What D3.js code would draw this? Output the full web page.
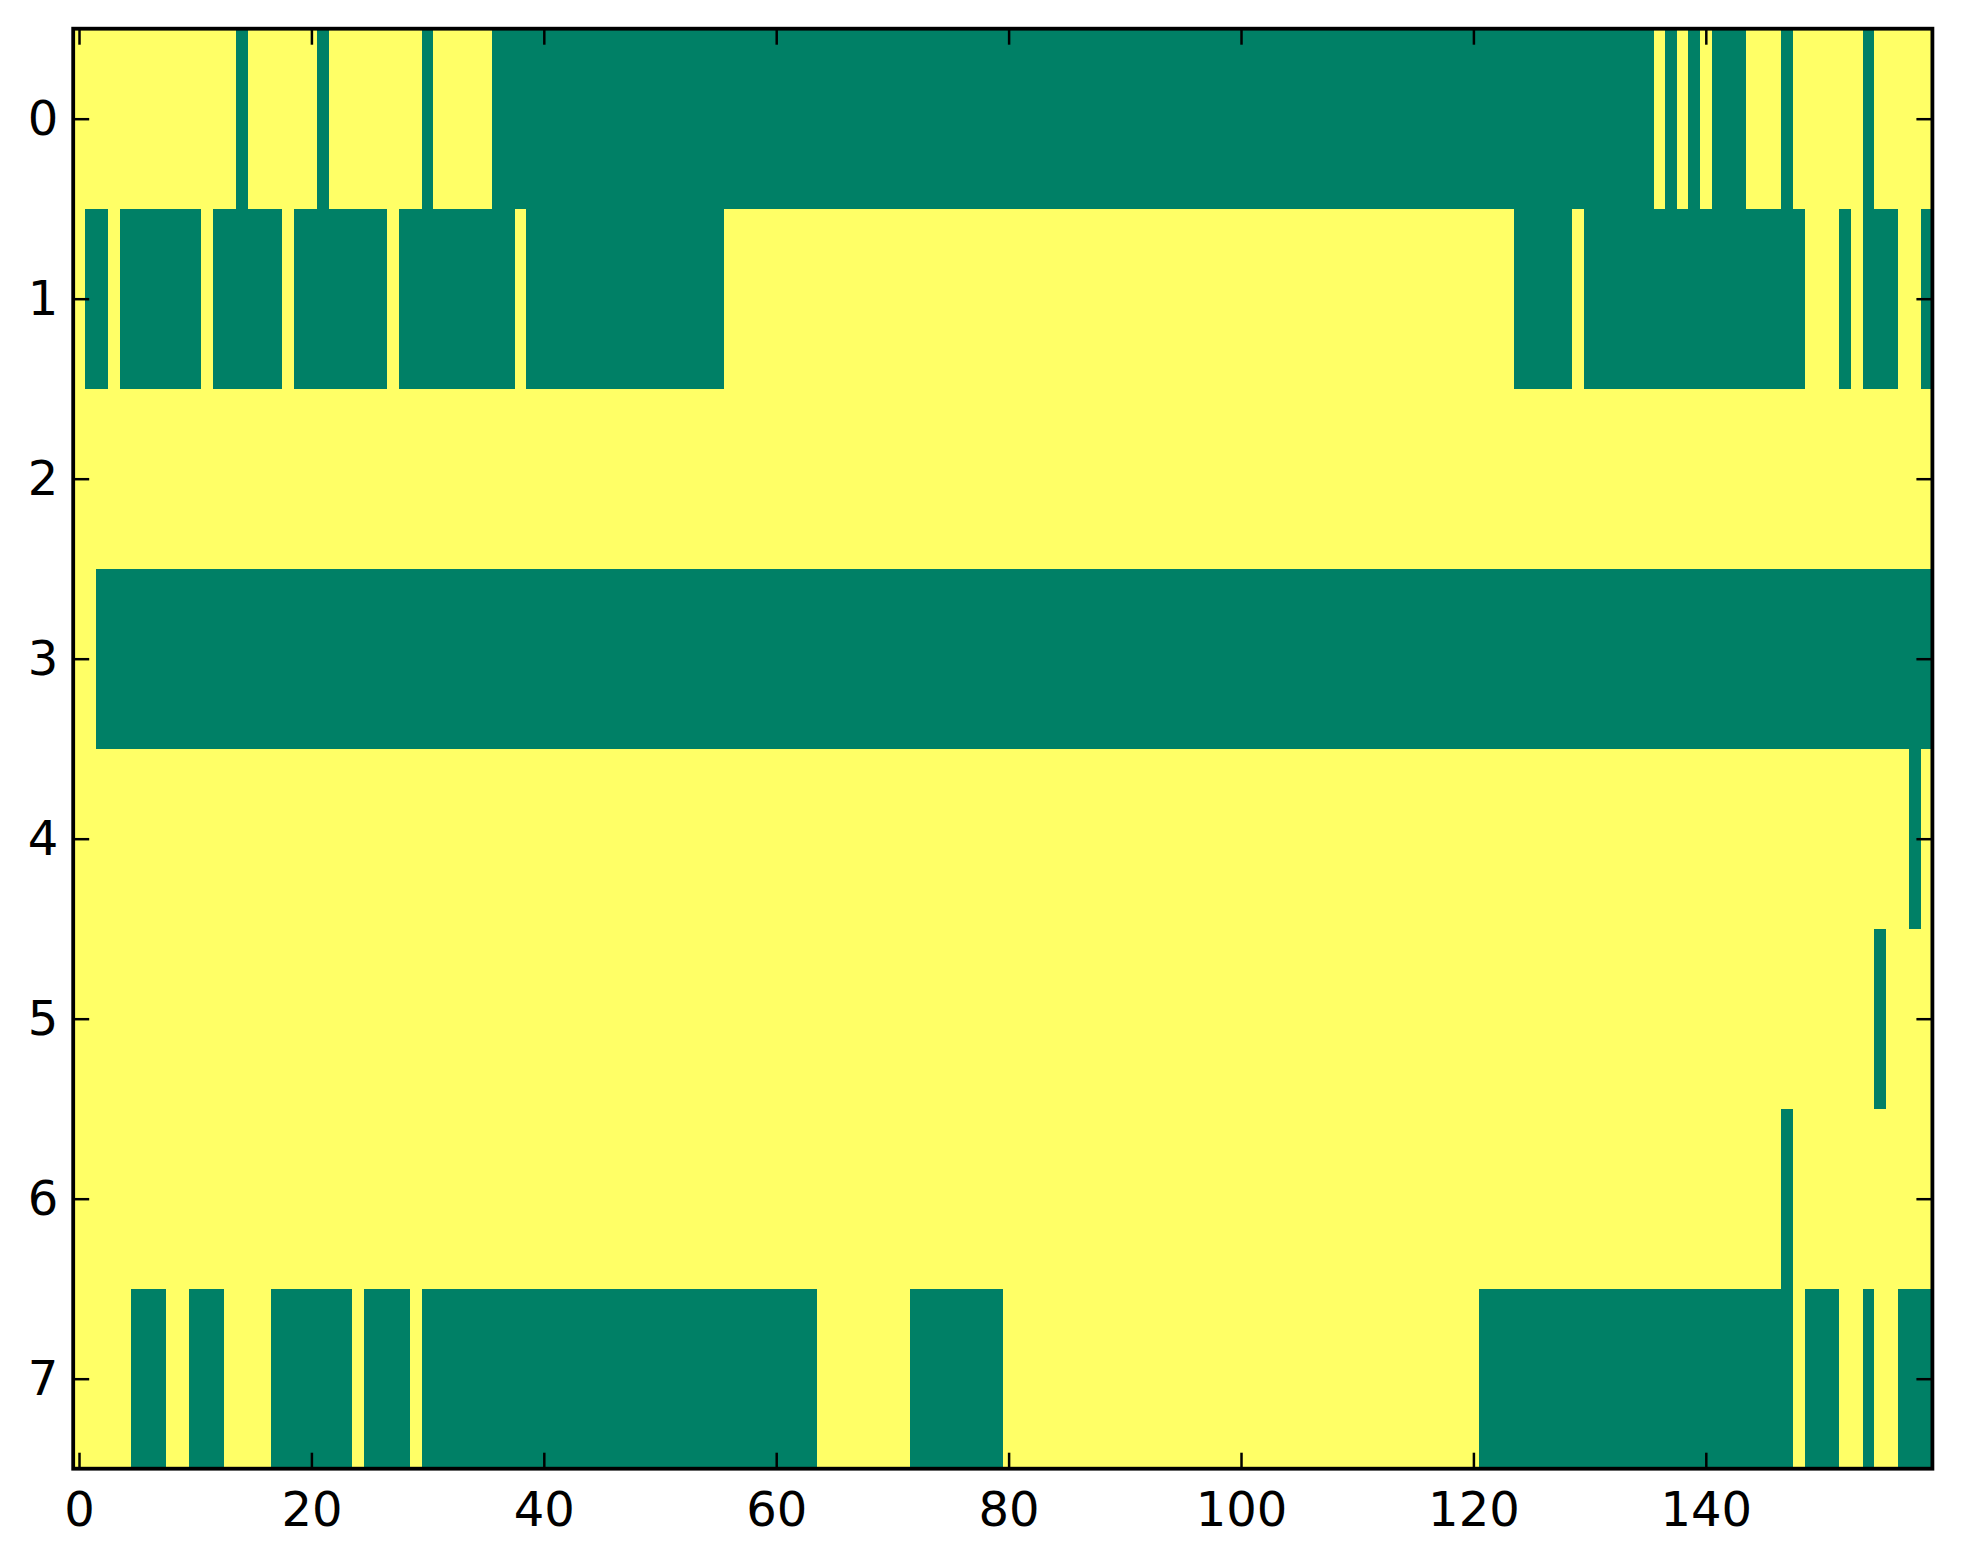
<!DOCTYPE html>
<html>
<head>
<meta charset="utf-8">
<script src="https://d3js.org/d3.v7.min.js"></script>
<style>
  body { margin: 0; background: #fff; }
  svg { display: block; }
  .tick text { font-family: 'DejaVu Sans', sans-serif; font-size: 48px; fill: #000; }
</style>
</head>
<body>
<svg id="chart" width="1963" height="1564"></svg>
<script>
// cell values, 10 columns per chunk: 1 = yellow, 0 = green
const row0 = ['1111111111', '1111011111', '1011111111', '0111110000', '0000000000', '0000000000', '0000000000', '0000000000',
              '0000000000', '0000000000', '0000000000', '0000000000', '0000000000', '0000001010', '1000111011', '1111011111'];
const row1 = ['1001000000', '0100000010', '0000000100', '0000000010', '0000000000', '0000001111', '1111111111', '1111111111',
              '1111111111', '1111111111', '1111111111', '1111111111', '1111000001', '0000000000', '0000000001', '1101000110'];
const row2 = ['1111111111', '1111111111', '1111111111', '1111111111', '1111111111', '1111111111', '1111111111', '1111111111',
              '1111111111', '1111111111', '1111111111', '1111111111', '1111111111', '1111111111', '1111111111', '1111111111'];
const row3 = ['1100000000', '0000000000', '0000000000', '0000000000', '0000000000', '0000000000', '0000000000', '0000000000',
              '0000000000', '0000000000', '0000000000', '0000000000', '0000000000', '0000000000', '0000000000', '0000000000'];
const row4 = ['1111111111', '1111111111', '1111111111', '1111111111', '1111111111', '1111111111', '1111111111', '1111111111',
              '1111111111', '1111111111', '1111111111', '1111111111', '1111111111', '1111111111', '1111111111', '1111111101'];
const row5 = ['1111111111', '1111111111', '1111111111', '1111111111', '1111111111', '1111111111', '1111111111', '1111111111',
              '1111111111', '1111111111', '1111111111', '1111111111', '1111111111', '1111111111', '1111111111', '1111101111'];
const row6 = ['1111111111', '1111111111', '1111111111', '1111111111', '1111111111', '1111111111', '1111111111', '1111111111',
              '1111111111', '1111111111', '1111111111', '1111111111', '1111111111', '1111111111', '1111111011', '1111111111'];
const row7 = ['1111100011', '0001111000', '0000100001', '0000000000', '0000000000', '0000000000', '0000111111', '1100000000',
              '1111111111', '1111111111', '1111111111', '1111111111', '1000000000', '0000000000', '0000000010', '0011011000'];

const rows = [row0, row1, row2, row3, row4, row5, row6, row7];
const xTicks = [0, 20, 40, 60, 80, 100, 120, 140];
const yTicks = [0, 1, 2, 3, 4, 5, 6, 7];

const nCols = 160;
const nRows = rows.length;

const margin = { left: 73.2, right: 1963 - 1932.4, top: 28.7, bottom: 1564 - 1468.7 };
const width = 1963 - margin.left - margin.right;
const height = 1564 - margin.top - margin.bottom;

const svg = d3.select('#chart');
const g = svg.append('g').attr('transform', `translate(${margin.left},${margin.top})`);

const x = d3.scaleLinear().domain([-0.5, nCols - 0.5]).range([0, width]);
const y = d3.scaleLinear().domain([-0.5, nRows - 0.5]).range([0, height]);
const color = d3.scaleOrdinal().domain([0, 1]).range(['#008066', '#ffff66']);

const cells = [];
rows.forEach((chunks, r) => {
  chunks.join('').split('').forEach((v, c) => cells.push({ r, c, v: +v }));
});

g.append('g').selectAll('rect').data(cells).join('rect')
  .attr('x', d => x(d.c - 0.5))
  .attr('y', d => y(d.r - 0.5))
  .attr('width', d => x(d.c + 0.5) - x(d.c - 0.5) + 0.4)
  .attr('height', d => y(d.r + 0.5) - y(d.r - 0.5) + 0.4)
  .attr('fill', d => color(d.v))
  .attr('shape-rendering', 'crispEdges');

const tickLen = 16;

const xAxis = g.append('g').attr('transform', `translate(0,${height})`)
  .call(d3.axisBottom(x).tickValues(xTicks).tickFormat(d3.format('d')).tickSize(-tickLen).tickPadding(23));
const xAxisTop = g.append('g')
  .call(d3.axisTop(x).tickValues(xTicks).tickFormat('').tickSize(-tickLen));
const yAxis = g.append('g')
  .call(d3.axisLeft(y).tickValues(yTicks).tickFormat(d3.format('d')).tickSize(-tickLen).tickPadding(15));
const yAxisRight = g.append('g').attr('transform', `translate(${width},0)`)
  .call(d3.axisRight(y).tickValues(yTicks).tickFormat('').tickSize(-tickLen));

[xAxis, xAxisTop, yAxis, yAxisRight].forEach(a => {
  a.select('.domain').remove();
  a.selectAll('.tick line').attr('stroke', '#000').attr('stroke-width', 2.5);
});

g.append('rect')
  .attr('width', width).attr('height', height)
  .attr('fill', 'none').attr('stroke', '#000').attr('stroke-width', 3.8);
</script>
</body>
</html>
